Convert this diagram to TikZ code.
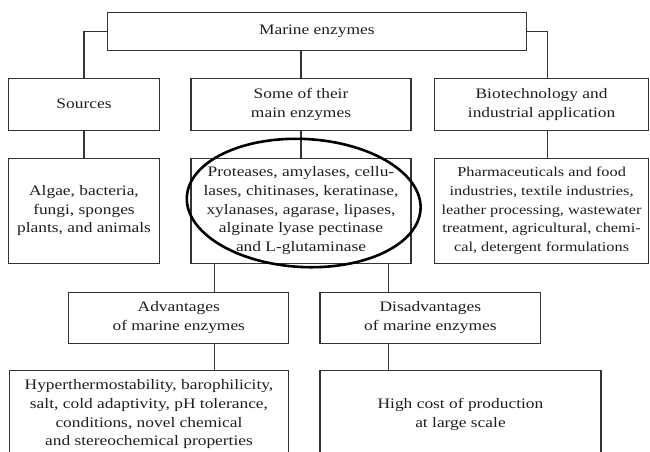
\documentclass[tikz,border=0pt]{standalone}
\usepackage{fontspec}
\setmainfont{Liberation Serif}[FakeStretch=1.2]
\definecolor{boxline}{HTML}{333333}
\definecolor{textcol}{HTML}{1E1E1E}
\begin{document}
\begin{tikzpicture}[x=1pt,y=-1pt,
    box/.style={draw=boxline, line width=1.1pt, align=center, inner sep=0pt,
      text=textcol, font=\fontsize{14.5}{18.7}\selectfont},
    link/.style={draw=boxline, line width=1.1pt},
    ring/.style={draw=black, line width=2.6pt}]
		\useasboundingbox (0,0) rectangle (650,451);
		% levels
		\node[box, minimum width=418.5pt, minimum height=37.7pt] (enz) at (316.8,31.2) {Marine enzymes};
		
		\node[box, minimum width=151.3pt, minimum height=51.7pt] (src) at (84,104.2) {Sources};
		\node[box, minimum width=220pt, minimum height=51.7pt] (main) at (301,104.2) {Some of their\\main enzymes};
		\node[box, minimum width=214pt, minimum height=51.7pt] (bio) at (541.6,104.2) {Biotechnology and\\industrial application};
		
		\node[box, minimum width=151.3pt, minimum height=105pt] (srcl) at (84,210.8) {Algae, bacteria,\\fungi, sponges\\plants, and animals};
		\node[box, minimum width=220pt, minimum height=105pt] (mainl) at (301,210.8) {Proteases, amylases, cellu-\\lases, chitinases, keratinase,\\xylanases, agarase, lipases,\\alginate lyase pectinase\\and L-glutaminase};
		\node[box, minimum width=214pt, minimum height=105pt, font=\fontsize{13.6}{18.7}\selectfont] (biol) at (541.6,210.8) {Pharmaceuticals and food\\industries, textile industries,\\leather processing, wastewater\\treatment, agricultural, chemi-\\cal, detergent formulations};
		
		\node[box, minimum width=220pt, minimum height=51pt] (adv) at (178.8,317.8) {Advantages\\of marine enzymes};
		\node[box, minimum width=220.8pt, minimum height=51pt] (dis) at (430.4,317.8) {Disadvantages\\of marine enzymes};
		
		\node[box, minimum width=279.5pt, minimum height=87.3pt] (advl) at (149,414.4) {Hyperthermostability, barophilicity,\\salt, cold adaptivity, pH tolerance,\\conditions, novel chemical\\and stereochemical properties};
		\node[box, minimum width=281pt, minimum height=87.3pt] (disl) at (460.5,414.4) {High cost of production\\at large scale};
		
		% connectors
		\draw[link] (enz.west) -| (src.north);
		\draw[link] (main.north) -- (main.north |- enz.south);
		\draw[link] (enz.east) -| ([xshift=6pt]bio.north);
		\draw[link] (src.south) -- (srcl.north);
		\draw[link] (main.south) -- (mainl.north);
		\draw[link] ([xshift=6pt]bio.south) -- ([xshift=6pt]biol.north);
		\path (mainl.south west) ++(23.6,0) coordinate (ja);
		\path (mainl.south east) ++(-23,0) coordinate (jd);
		\draw[link] (ja) -- (ja |- adv.north);
		\draw[link] (jd) -- (jd |- dis.north);
		\draw[link] (ja |- adv.south) -- (ja |- advl.north);
		\draw[link] (jd |- dis.south) -- (jd |- disl.north);
		
		% highlight
		\draw[ring, rotate around={-3:(303.7,203)}] (303.7,203) ellipse [x radius=117pt, y radius=64pt];
\end{tikzpicture}
\end{document}
